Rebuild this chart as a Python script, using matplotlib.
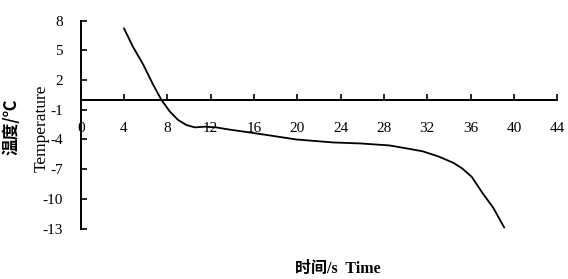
import numpy as np
import matplotlib.pyplot as plt

# temperature curve
time_s = [4.0, 4.8, 5.8, 6.7, 7.45, 8.24, 9.0, 9.76, 10.53, 11.45, 12.5,
          13.6, 15.0, 17.2, 19.9, 23.3, 25.8, 28.5, 30.1, 31.6, 33.1, 34.4,
          35.2, 36.1, 37.1, 38.1, 39.1]
temperature = [7.2, 5.4, 3.5, 1.5, 0.0, -1.2, -2.04, -2.54, -2.78, -2.71,
               -2.78, -2.98, -3.2, -3.55, -4.0, -4.3, -4.4, -4.6, -4.9, -5.2,
               -5.74, -6.35, -6.9, -7.76, -9.4, -10.9, -12.87]
x_ticks = list(range(0, 45, 4))
y_ticks = [8, 5, 2, -1, -4, -7, -10, -13]

serif = ["Liberation Serif", "Noto Sans CJK SC"]
plt.rcParams["font.family"] = serif
plt.rcParams["axes.unicode_minus"] = False

fig = plt.figure(figsize=(5.68, 2.79), dpi=100)
ax = fig.add_axes([0.1421, 0.1803, 0.8389, 0.7462])

ax.plot(time_s, temperature, color="black", linewidth=1.3,
        solid_joinstyle="round")

ax.set_xlim(0, 44)
ax.set_ylim(-13, 8)
ax.set_xticks(x_ticks)
ax.set_yticks(y_ticks)

ax.spines["top"].set_visible(False)
ax.spines["right"].set_visible(False)
ax.spines["bottom"].set_position(("data", 0))
for side in ("left", "bottom"):
    ax.spines[side].set_linewidth(1.4)

ax.tick_params(axis="y", direction="in", length=4, width=1.2, pad=13,
               labelsize=11)
ax.tick_params(axis="x", direction="in", length=4, width=1.2, pad=16,
               labelsize=11)

fig.text(0.021, 0.545, "温度/℃", rotation=90, ha="center", va="center",
         fontsize=12, fontweight="bold", family=["Noto Sans CJK SC"])
fig.text(0.074, 0.54, "Temperature", rotation=90, ha="center", va="center",
         fontsize=12.5, family=serif)
fig.text(0.595, 0.035, "时间/s  Time", ha="center", va="center",
         fontsize=11.5, fontweight="bold", family=serif)

fig.savefig("out.png", dpi=100)
plt.close(fig)
